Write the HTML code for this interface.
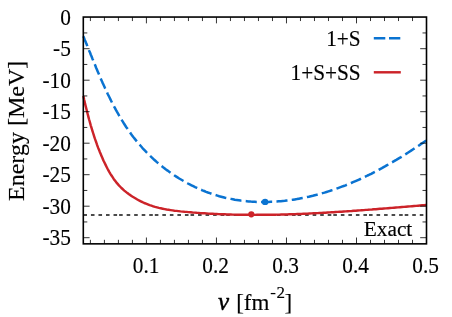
<!DOCTYPE html>
<html><head><meta charset="utf-8"><title>Energy vs nu</title>
<style>
html,body{margin:0;padding:0;background:#fff;}
body{width:452px;height:317px;overflow:hidden;}
svg{display:block;will-change:transform;transform:translateZ(0);}
text{font-family:"Liberation Serif",serif;font-size:23px;fill:#000;stroke:#000;stroke-width:0.15px;}
</style></head><body>
<svg width="452" height="317" viewBox="0 0 452 317">
<rect width="452" height="317" fill="#fff"/>
<path d="M83.4,214.97 H119.1 M119.1,214.97 H154.8 M154.8,214.97 H190.5 M190.5,214.97 H226.2 M226.2,214.97 H261.9 M261.9,214.97 H297.6 M297.6,214.97 H333.3 M333.3,214.97 H369.0 M369.0,214.97 H404.7 M404.7,214.97 H426.5" stroke="#111" stroke-width="1.45" stroke-dasharray="3.6 3.93" fill="none"/>
<path d="M83.3,36.3 L84.1,38.1 L84.8,39.9 L85.6,41.8 L86.3,43.6 L87.1,45.4 L87.8,47.3 L88.6,49.1 L89.3,51.0 L90.1,52.8 L90.8,54.7 L91.6,56.5 L92.3,58.4 L93.1,60.2 L93.8,62.1 L94.6,64.0 L95.4,65.8 L96.1,67.7 L96.9,69.6 L97.7,71.4 L98.5,73.3 L99.3,75.2 L100.1,77.0 L100.9,78.9 L101.7,80.7 L102.5,82.6 L103.4,84.5 L104.2,86.3 L105.0,88.1 L105.9,90.0 L106.8,91.8 L107.6,93.7 L108.5,95.5 L109.4,97.3 L110.3,99.1 L111.2,101.0 L112.1,102.8 L113.1,104.6 L114.0,106.4 L115.0,108.1 L115.9,109.9 L116.9,111.7 L117.9,113.4 L118.9,115.2 L119.9,116.9 L121.0,118.7 L122.0,120.4 L123.1,122.1 L124.1,123.8 L125.2,125.5 L126.3,127.2 L127.5,128.8 L128.6,130.5 L129.8,132.1 L130.9,133.8 L132.1,135.4 L133.3,137.0 L134.6,138.6 L135.8,140.1 L137.1,141.7 L138.4,143.3 L139.7,144.8 L141.0,146.3 L142.3,147.8 L143.7,149.3 L145.0,150.7 L146.4,152.2 L147.8,153.6 L149.3,155.0 L150.7,156.4 L152.2,157.8 L153.6,159.2 L155.1,160.5 L156.6,161.9 L158.2,163.2 L159.7,164.5 L161.2,165.7 L162.8,167.0 L164.4,168.2 L166.0,169.5 L167.6,170.6 L169.2,171.8 L170.9,173.0 L172.5,174.1 L174.2,175.3 L175.9,176.4 L177.5,177.4 L179.2,178.5 L181.0,179.5 L182.7,180.5 L184.4,181.5 L186.2,182.5 L187.9,183.5 L189.7,184.4 L191.5,185.3 L193.3,186.2 L195.1,187.1 L196.9,187.9 L198.7,188.7 L200.5,189.5 L202.4,190.3 L204.2,191.0 L206.1,191.8 L207.9,192.5 L209.8,193.1 L211.7,193.8 L213.6,194.4 L215.5,195.0 L217.4,195.6 L219.3,196.2 L221.2,196.7 L223.2,197.2 L225.1,197.7 L227.0,198.1 L229.0,198.5 L230.9,198.9 L232.9,199.3 L234.8,199.7 L236.8,200.0 L238.8,200.3 L240.7,200.6 L242.7,200.8 L244.7,201.0 L246.7,201.2 L248.7,201.4 L250.7,201.6 L252.7,201.7 L254.7,201.8 L256.7,201.9 L258.7,201.9 L260.7,202.0 L262.7,202.0 L264.7,202.0 L266.7,202.0 L268.7,201.9 L270.7,201.8 L272.7,201.8 L274.8,201.6 L276.8,201.5 L278.8,201.3 L280.8,201.2 L282.8,201.0 L284.8,200.8 L286.8,200.5 L288.8,200.3 L290.8,200.0 L292.9,199.7 L294.9,199.4 L296.9,199.1 L298.9,198.7 L300.9,198.3 L302.9,198.0 L304.8,197.5 L306.8,197.1 L308.8,196.7 L310.8,196.2 L312.8,195.8 L314.7,195.3 L316.7,194.8 L318.7,194.2 L320.6,193.7 L322.6,193.1 L324.5,192.6 L326.5,192.0 L328.4,191.4 L330.3,190.8 L332.3,190.1 L334.2,189.5 L336.1,188.8 L338.0,188.1 L339.9,187.4 L341.8,186.7 L343.7,186.0 L345.6,185.3 L347.4,184.5 L349.3,183.8 L351.2,183.0 L353.0,182.2 L354.9,181.4 L356.7,180.6 L358.5,179.8 L360.4,179.0 L362.2,178.1 L364.0,177.3 L365.8,176.4 L367.6,175.5 L369.4,174.7 L371.2,173.8 L373.0,172.8 L374.8,171.9 L376.6,171.0 L378.4,170.1 L380.1,169.1 L381.9,168.2 L383.6,167.2 L385.4,166.2 L387.1,165.2 L388.9,164.2 L390.6,163.2 L392.4,162.2 L394.1,161.2 L395.8,160.2 L397.5,159.1 L399.2,158.1 L401.0,157.1 L402.7,156.0 L404.4,154.9 L406.1,153.9 L407.8,152.8 L409.4,151.7 L411.1,150.6 L412.8,149.5 L414.5,148.4 L416.1,147.3 L417.8,146.2 L419.5,145.1 L421.1,144.0 L422.8,142.9 L424.4,141.8 L426.1,140.6" stroke="#0a73d1" stroke-width="2.5" stroke-dasharray="11.1 4.3" stroke-dashoffset="0.5" fill="none" stroke-linejoin="round"/>
<path d="M83.3,96.0 L83.8,98.0 L84.2,100.0 L84.7,101.9 L85.1,103.9 L85.6,105.9 L86.1,107.8 L86.6,109.8 L87.1,111.8 L87.6,113.7 L88.1,115.6 L88.6,117.6 L89.1,119.5 L89.7,121.5 L90.2,123.4 L90.7,125.3 L91.3,127.2 L91.9,129.2 L92.5,131.1 L93.1,133.0 L93.7,134.9 L94.3,136.8 L94.9,138.7 L95.6,140.6 L96.3,142.5 L96.9,144.4 L97.6,146.3 L98.3,148.2 L99.1,150.0 L99.8,151.9 L100.6,153.8 L101.4,155.7 L102.2,157.5 L103.0,159.4 L103.8,161.2 L104.7,163.1 L105.6,164.9 L106.5,166.7 L107.4,168.5 L108.4,170.3 L109.4,172.1 L110.4,173.8 L111.5,175.5 L112.6,177.2 L113.7,178.9 L114.9,180.5 L116.1,182.1 L117.4,183.6 L118.7,185.1 L120.0,186.5 L121.4,188.0 L122.9,189.3 L124.3,190.6 L125.9,191.9 L127.4,193.1 L129.0,194.3 L130.7,195.4 L132.3,196.5 L134.0,197.5 L135.7,198.5 L137.3,199.5 L139.0,200.4 L140.8,201.3 L142.5,202.2 L144.2,203.0 L146.0,203.7 L147.8,204.4 L149.6,205.1 L151.4,205.7 L153.2,206.3 L155.1,206.9 L157.0,207.4 L158.9,207.9 L160.8,208.3 L162.7,208.7 L164.7,209.1 L166.6,209.5 L168.6,209.8 L170.5,210.1 L172.5,210.4 L174.5,210.7 L176.5,210.9 L178.5,211.1 L180.5,211.4 L182.5,211.6 L184.5,211.8 L186.5,211.9 L188.5,212.1 L190.5,212.3 L192.6,212.5 L194.6,212.6 L196.6,212.8 L198.6,212.9 L200.6,213.1 L202.6,213.2 L204.6,213.3 L206.6,213.4 L208.7,213.6 L210.7,213.7 L212.7,213.8 L214.7,213.9 L216.7,214.0 L218.7,214.1 L220.7,214.2 L222.8,214.2 L224.8,214.3 L226.8,214.4 L228.8,214.4 L230.8,214.5 L232.8,214.6 L234.9,214.6 L236.9,214.7 L238.9,214.7 L240.9,214.7 L242.9,214.8 L244.9,214.8 L246.9,214.8 L249.0,214.8 L251.0,214.8 L253.0,214.8 L255.0,214.9 L257.0,214.8 L259.0,214.8 L261.1,214.8 L263.1,214.8 L265.1,214.8 L267.1,214.8 L269.1,214.8 L271.1,214.7 L273.2,214.7 L275.2,214.7 L277.2,214.6 L279.2,214.6 L281.2,214.5 L283.2,214.5 L285.2,214.4 L287.3,214.4 L289.3,214.3 L291.3,214.2 L293.3,214.2 L295.3,214.1 L297.3,214.0 L299.4,213.9 L301.4,213.9 L303.4,213.8 L305.4,213.7 L307.4,213.6 L309.4,213.5 L311.5,213.4 L313.5,213.3 L315.5,213.2 L317.5,213.1 L319.5,213.0 L321.5,212.9 L323.5,212.8 L325.6,212.7 L327.6,212.5 L329.6,212.4 L331.6,212.3 L333.6,212.2 L335.6,212.0 L337.6,211.9 L339.7,211.8 L341.7,211.7 L343.7,211.5 L345.7,211.4 L347.7,211.2 L349.7,211.1 L351.7,211.0 L353.8,210.8 L355.8,210.7 L357.8,210.5 L359.8,210.4 L361.8,210.2 L363.8,210.1 L365.8,209.9 L367.8,209.8 L369.9,209.6 L371.9,209.5 L373.9,209.3 L375.9,209.2 L377.9,209.0 L379.9,208.8 L381.9,208.7 L383.9,208.5 L385.9,208.4 L388.0,208.2 L390.0,208.0 L392.0,207.9 L394.0,207.7 L396.0,207.5 L398.0,207.4 L400.0,207.2 L402.0,207.0 L404.0,206.9 L406.0,206.7 L408.0,206.5 L410.0,206.4 L412.1,206.2 L414.1,206.0 L416.1,205.9 L418.1,205.7 L420.1,205.5 L422.1,205.3 L424.1,205.2 L426.1,205.0" stroke="#cc2329" stroke-width="2.45" fill="none" stroke-linejoin="round"/>
<circle cx="265.1" cy="201.9" r="3.2" fill="#0a73d1"/>
<circle cx="251.3" cy="214.3" r="3.1" fill="#cc2329"/>
<path d="M90.40,243.8 v-4.0 M90.40,17.05 v4.0 M104.41,243.8 v-4.0 M104.41,17.05 v4.0 M118.41,243.8 v-4.0 M118.41,17.05 v4.0 M132.42,243.8 v-4.0 M132.42,17.05 v4.0 M146.42,243.8 v-6.3 M146.42,17.05 v6.3 M160.43,243.8 v-4.0 M160.43,17.05 v4.0 M174.43,243.8 v-4.0 M174.43,17.05 v4.0 M188.44,243.8 v-4.0 M188.44,17.05 v4.0 M202.44,243.8 v-4.0 M202.44,17.05 v4.0 M216.45,243.8 v-6.3 M216.45,17.05 v6.3 M230.45,243.8 v-4.0 M230.45,17.05 v4.0 M244.46,243.8 v-4.0 M244.46,17.05 v4.0 M258.46,243.8 v-4.0 M258.46,17.05 v4.0 M272.47,243.8 v-4.0 M272.47,17.05 v4.0 M286.47,243.8 v-6.3 M286.47,17.05 v6.3 M300.48,243.8 v-4.0 M300.48,17.05 v4.0 M314.48,243.8 v-4.0 M314.48,17.05 v4.0 M328.49,243.8 v-4.0 M328.49,17.05 v4.0 M342.49,243.8 v-4.0 M342.49,17.05 v4.0 M356.50,243.8 v-6.3 M356.50,17.05 v6.3 M370.50,243.8 v-4.0 M370.50,17.05 v4.0 M384.51,243.8 v-4.0 M384.51,17.05 v4.0 M398.51,243.8 v-4.0 M398.51,17.05 v4.0 M412.52,243.8 v-4.0 M412.52,17.05 v4.0 M83.3,32.95 h4.0 M426.5,32.95 h-4.0 M83.3,48.70 h6.3 M426.5,48.70 h-6.3 M83.3,64.45 h4.0 M426.5,64.45 h-4.0 M83.3,80.20 h6.3 M426.5,80.20 h-6.3 M83.3,95.95 h4.0 M426.5,95.95 h-4.0 M83.3,111.70 h6.3 M426.5,111.70 h-6.3 M83.3,127.45 h4.0 M426.5,127.45 h-4.0 M83.3,143.20 h6.3 M426.5,143.20 h-6.3 M83.3,158.95 h4.0 M426.5,158.95 h-4.0 M83.3,174.70 h6.3 M426.5,174.70 h-6.3 M83.3,190.45 h4.0 M426.5,190.45 h-4.0 M83.3,206.20 h6.3 M426.5,206.20 h-6.3 M83.3,221.95 h4.0 M426.5,221.95 h-4.0 M83.3,237.70 h6.3 M426.5,237.70 h-6.3" stroke="#000" stroke-width="0.8" fill="none"/>
<rect x="83.3" y="17.05" width="343.2" height="226.8" fill="none" stroke="#000" stroke-width="1.6"/>
<g><text transform="translate(146.12,273.40) scale(0.926,1)" text-anchor="middle">0.1</text><text transform="translate(215.55,273.40) scale(0.926,1)" text-anchor="middle">0.2</text><text transform="translate(285.57,273.40) scale(0.926,1)" text-anchor="middle">0.3</text><text transform="translate(355.60,273.40) scale(0.926,1)" text-anchor="middle">0.4</text><text transform="translate(425.62,273.40) scale(0.926,1)" text-anchor="middle">0.5</text></g>
<g><text transform="translate(70.80,24.60) scale(0.926,1)" text-anchor="end">0</text><text transform="translate(70.80,56.10) scale(0.926,1)" text-anchor="end">-5</text><text transform="translate(70.80,87.60) scale(0.926,1)" text-anchor="end">-10</text><text transform="translate(70.80,119.10) scale(0.926,1)" text-anchor="end">-15</text><text transform="translate(70.80,150.60) scale(0.926,1)" text-anchor="end">-20</text><text transform="translate(70.80,182.10) scale(0.926,1)" text-anchor="end">-25</text><text transform="translate(70.80,213.60) scale(0.926,1)" text-anchor="end">-30</text><text transform="translate(70.80,245.10) scale(0.926,1)" text-anchor="end">-35</text></g>
<text transform="translate(360.70,45.70) scale(0.926,1)" text-anchor="end">1+S</text>
<text transform="translate(360.70,79.90) scale(0.926,1)" text-anchor="end">1+S+SS</text>
<path d="M373.8,38.2 H400.3" stroke="#0a73d1" stroke-width="2.5" stroke-dasharray="11.5 3.7" fill="none"/>
<path d="M373.8,72.3 H400.8" stroke="#cc2329" stroke-width="2.45" fill="none"/>
<text transform="translate(363.80,235.70) scale(1,1)" text-anchor="start" style="font-size:21.3px">Exact</text>
<text transform="translate(23.9,201.0) rotate(-90) scale(1.045,1)" style="font-size:23px">Energy [MeV]</text>
<text x="217.9" y="310.2" style="font-style:italic;font-size:25px;stroke-width:0.45px">ν</text>
<text x="236.2" y="309.8" style="font-size:23px">[fm</text>
<text x="270.2" y="298.2" style="font-size:17px">-</text><text x="276.4" y="298.2" style="font-size:17px">2</text>
<text x="284.6" y="309.8" style="font-size:23px">]</text>
</svg>
</body></html>
